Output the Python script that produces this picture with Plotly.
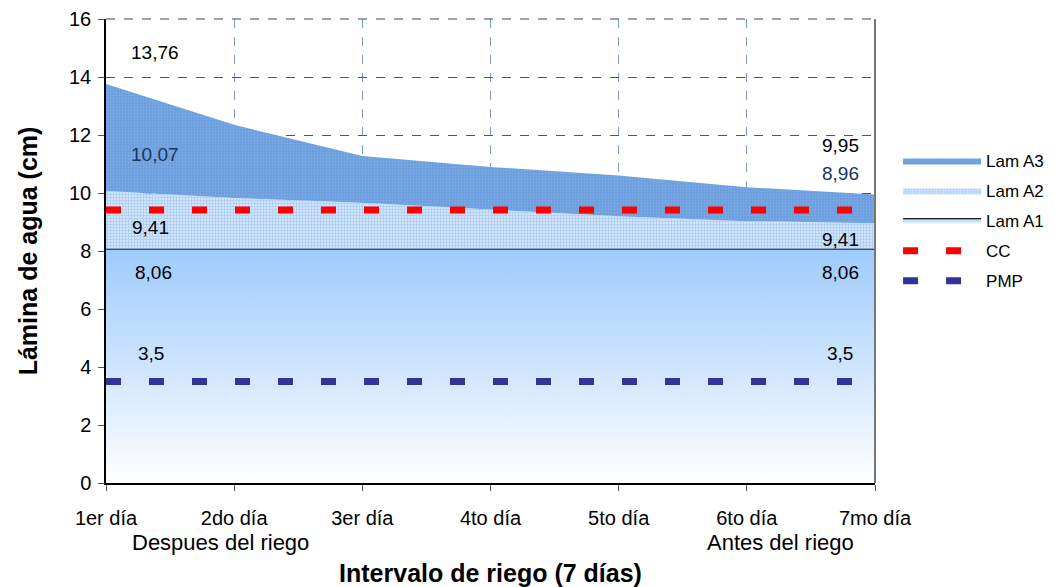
import plotly.graph_objects as go

days = ["1er día", "2do día", "3er día", "4to día", "5to día", "6to día", "7mo día"]
lam_a1 = [8.06, 8.06, 8.06, 8.06, 8.06, 8.06, 8.06]
lam_a2 = [10.07, 9.83, 9.66, 9.42, 9.2, 9.03, 8.96]
lam_a3 = [13.76, 12.35, 11.28, 10.9, 10.6, 10.2, 9.95]
cc = [9.41] * 7
pmp = [3.5] * 7

x = list(range(len(days)))
FONT = "Liberation Sans, Arial, sans-serif"

fig = go.Figure()
fig.add_trace(go.Scatter(
    x=x, y=lam_a1, name="Lam A1", mode="lines", fill="tozeroy", legendgroup="a1",
    line=dict(color="#1a1a1a", width=1.2),
    fillgradient=dict(type="vertical", colorscale=[[0, "#ffffff"], [1, "#9ecbfc"]]),
    legendrank=3))
fig.add_trace(go.Scatter(
    x=x, y=lam_a2, name="Lam A2", mode="lines", fill="tonexty", legendgroup="a2",
    line=dict(width=0, color="#b8d6f6"),
    fillpattern=dict(shape="+", fgcolor="#82b4ec", bgcolor="#e4effc", size=3, solidity=0.7),
    legendrank=2))
fig.add_trace(go.Scatter(
    x=x, y=lam_a3, name="Lam A3", mode="lines", fill="tonexty", legendgroup="a3",
    line=dict(width=0, color="#6d9fe0"),
    fillpattern=dict(shape=".", fgcolor="#92baea", bgcolor="#6b9ede", size=3, solidity=0.3),
    legendrank=1))
fig.add_trace(go.Scatter(
    x=x, y=cc, name="CC", mode="lines", legendgroup="cc",
    line=dict(color="#ff0000", width=7, dash="15px,28px"), legendrank=4))
fig.add_trace(go.Scatter(
    x=x, y=pmp, name="PMP", mode="lines", legendgroup="pmp",
    line=dict(color="#333399", width=7, dash="15px,28px"), legendrank=5))

ann = []
def lab(xv, yv, txt, color="#000000"):
    ann.append(dict(x=xv, y=yv, text=txt, showarrow=False, xref="x", yref="y",
                    font=dict(family=FONT, size=19, color=color)))

fmt = lambda v: f"{v:g}".replace(".", ",")
lab(0.38, lam_a3[0] + 1.1, fmt(lam_a3[0]))
lab(0.38, lam_a2[0] + 1.25, fmt(lam_a2[0]), "#17375e")
lab(0.35, cc[0] - 0.6, fmt(cc[0]))
lab(0.37, lam_a1[0] - 0.8, fmt(lam_a1[0]))
lab(0.35, pmp[0] + 0.95, fmt(pmp[0]))
lab(5.73, lam_a3[-1] + 1.7, fmt(lam_a3[-1]))
lab(5.73, lam_a2[-1] + 1.7, fmt(lam_a2[-1]), "#17375e")
lab(5.73, cc[0] - 1.0, fmt(cc[0]))
lab(5.73, lam_a1[0] - 0.8, fmt(lam_a1[0]))
lab(5.73, pmp[0] + 0.95, fmt(pmp[0]))

ann.append(dict(x=0.89, y=-0.129, xref="x", yref="paper", text="Despues del riego",
                yanchor="middle", showarrow=False, font=dict(family=FONT, size=22, color="#000")))
ann.append(dict(x=5.26, y=-0.129, xref="x", yref="paper", text="Antes del riego",
                yanchor="middle", showarrow=False, font=dict(family=FONT, size=22, color="#000")))

fig.update_layout(
    width=1055, height=587,
    margin=dict(l=106, r=180, t=19, b=104, autoexpand=False),
    paper_bgcolor="white", plot_bgcolor="white",
    font=dict(family=FONT, size=17, color="#000"),
    showlegend=True,
    legend=dict(x=1.03, y=0.733, xanchor="left", yanchor="top", traceorder="grouped",
                font=dict(family=FONT, size=17), tracegroupgap=5,
                itemwidth=78, bgcolor="rgba(0,0,0,0)"),
    annotations=ann,
    xaxis=dict(
        tickmode="array", tickvals=x, ticktext=days, range=[0, 6], automargin=False,
        showline=True, linecolor="#000", linewidth=1.5,
        ticks="outside", ticklen=6, tickcolor="#555",
        showgrid=True, gridcolor="#7b97e0", griddash="dash", gridwidth=1,
        tickfont=dict(family=FONT, size=20), ticklabelstandoff=10,
        title=dict(text="<b>Intervalo de riego (7 días)</b>", font=dict(family=FONT, size=25), standoff=44),
        zeroline=False),
    yaxis=dict(
        range=[0, 16], dtick=2, showline=True, linecolor="#000", linewidth=1.5, automargin=False,
        ticks="outside", ticklen=6, tickcolor="#555",
        showgrid=True, gridcolor="#555555", griddash="dash", gridwidth=1,
        tickfont=dict(family=FONT, size=20), ticklabelstandoff=3,
        title=dict(text="<b>Lámina de agua (cm)</b>", font=dict(family=FONT, size=25), standoff=24),
        zeroline=False),
    shapes=[dict(type="line", xref="paper", yref="paper", x0=1, x1=1, y0=0, y1=1,
                 line=dict(color="#777", width=2)),
            dict(type="line", xref="paper", yref="paper", x0=0, x1=1, y0=1, y1=1,
                 line=dict(color="#444", width=1.2, dash="dash"))],
)

fig.write_html("out.html")
